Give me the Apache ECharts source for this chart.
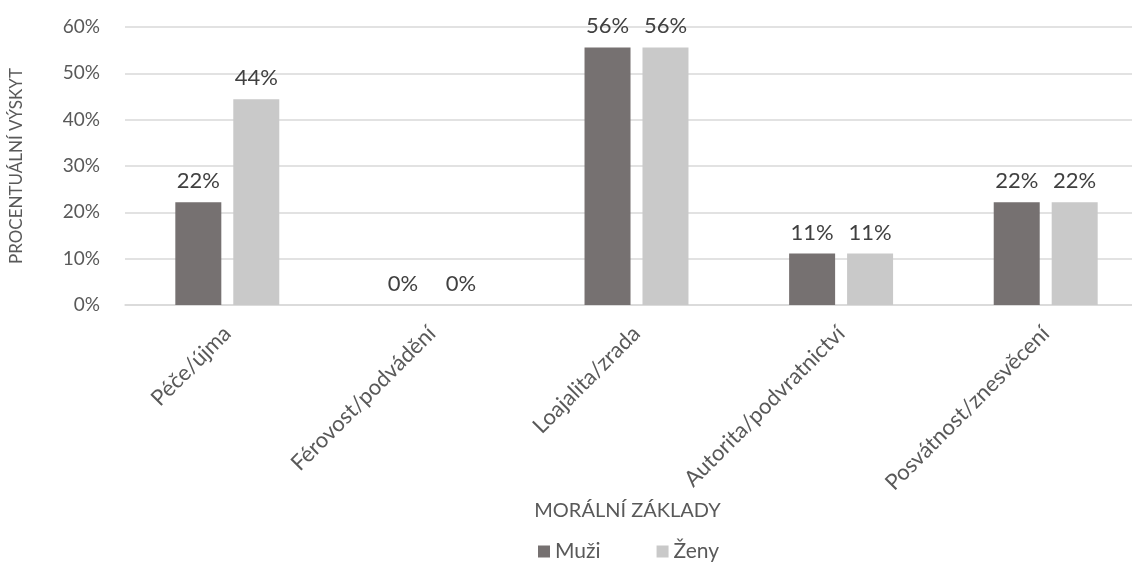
<!DOCTYPE html>
<html>
<head>
<meta charset="utf-8">
<script src="https://cdn.jsdelivr.net/npm/echarts@6/dist/echarts.min.js"></script>
<style>
  html, body { margin: 0; padding: 0; background: #fff; }
  #chart { width: 1132px; height: 563px; }
</style>
</head>
<body>
<div id="chart"></div>
<script>
// kategorie a hodnoty (v %)
var categories = ['Péče/újma', 'Férovost/podvádění', 'Loajalita/zrada', 'Autorita/podvratnictví', 'Posvátnost/znesvěcení']
var muzi = [22.2, 0, 55.6, 11.1, 22.2]
var zeny = [44.4, 0, 55.6, 11.1, 22.2]
var yTicks = [0, 10, 20, 30, 40, 50, 60]

var font = 'Lato, "Open Sans", sans-serif'
var chart = echarts.init(document.getElementById('chart'))

function barSeries(name, data, color) {
  return {
    name: name,
    type: 'bar',
    data: data,
    barWidth: 46,
    barGap: '26%',
    itemStyle: { color: color },
    label: {
      show: true,
      position: 'top',
      distance: 10,
      color: '#404040',
      fontFamily: font,
      fontSize: 22,
      formatter: function (p) { return Math.round(p.value) + '%' }
    }
  }
}

chart.setOption({
  animation: false,
  textStyle: { fontFamily: font },
  grid: {
    left: 125,
    top: 27,
    width: 1023,
    height: 278,
    outerBoundsMode: 'none',
    containLabel: false
  },
  legend: {
    data: ['Muži', 'Ženy'],
    left: 533,
    top: 536,
    itemWidth: 12,
    itemHeight: 12,
    itemGap: 56,
    icon: 'rect',
    textStyle: { color: '#595959', fontSize: 21, fontFamily: font }
  },
  xAxis: {
    type: 'category',
    data: categories,
    name: 'MORÁLNÍ ZÁKLADY',
    nameLocation: 'middle',
    nameGap: 196,
    nameTextStyle: { color: '#595959', fontSize: 20, fontFamily: font, padding: [0, 18, 0, 0] },
    axisLine: { show: true, lineStyle: { color: '#d9d9d9', width: 1.5 } },
    axisTick: { show: false },
    axisLabel: {
      rotate: 45,
      margin: 25,
      color: '#595959',
      fontSize: 22,
      fontFamily: font,
      interval: 0
    }
  },
  yAxis: {
    type: 'value',
    min: yTicks[0],
    max: yTicks[yTicks.length - 1],
    interval: 10,
    name: 'PROCENTUÁLNÍ VÝSKYT',
    nameLocation: 'middle',
    nameGap: 100,
    nameRotate: 90,
    nameTextStyle: { color: '#595959', fontSize: 17, fontFamily: font },
    axisLine: { show: false },
    axisTick: { show: false },
    axisLabel: {
      margin: 25,
      color: '#595959',
      fontSize: 19,
      fontFamily: font,
      formatter: '{value}%'
    },
    splitLine: { lineStyle: { color: '#d9d9d9', width: 1.5 } }
  },
  series: [
    barSeries('Muži', muzi, '#767171'),
    barSeries('Ženy', zeny, '#c9c9c9')
  ]
})
</script>
</body>
</html>
